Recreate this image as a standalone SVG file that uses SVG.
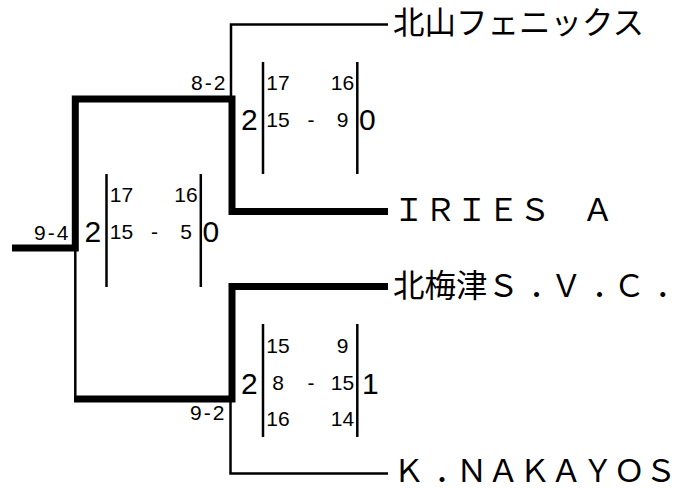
<svg xmlns="http://www.w3.org/2000/svg" width="693" height="488" viewBox="0 0 693 488">
<style>
.thin{fill:none;stroke:#000;stroke-width:2.5;stroke-linejoin:miter}
.thick{fill:none;stroke:#000;stroke-width:7;stroke-linejoin:miter}
.bar{stroke:#000;stroke-width:2.5}
.s{font-family:"Liberation Sans",Arial,sans-serif;font-size:21px;fill:#000}
.c{text-anchor:middle}
.big{font-family:"Liberation Sans",Arial,sans-serif;font-size:30px;fill:#000}
.lbl{font-family:"Liberation Sans",Arial,sans-serif;font-size:21px;letter-spacing:2px;fill:#000}
.name{font-family:"Noto Sans CJK JP","Noto Sans CJK SC",sans-serif;font-size:31.5px;fill:#000}
</style>
<rect width="693" height="488" fill="#fff"/>
<g id="connectors">
<path class="thin" d="M388,24.5 H231 V99"/>
<path class="thick" d="M388,211.5 H232 V99 H75.3 V248 H12"/>
<path class="thin" d="M75.3,248 V399"/>
<path class="thick" d="M388,286.5 H232 V399 H74"/>
<path class="thin" d="M230.5,399 V473.5 H388"/>
</g>
<g id="team1"><text class="name" x="393" y="34">北山フェニックス</text></g>
<g id="team2"><text class="name" x="393" y="221">ＩＲＩＥＳ　Ａ</text></g>
<g id="team3"><text class="name" x="393" y="297" dx="0 0 0 0 10 -10 10 -10 10">北梅津Ｓ．Ｖ．Ｃ．</text></g>
<g id="team4"><text class="name" x="393" y="482" dx="0 10 -10">Ｋ．ＮＡＫＡＹＯＳ</text></g>
<g id="match1">
<text class="lbl" x="191" y="90">8-2</text>
<text class="big" x="241" y="130">2</text>
<line class="bar" x1="263" y1="62" x2="263" y2="174"/>
<line class="bar" x1="357.3" y1="62" x2="357.3" y2="174"/>
<text class="s c" x="278" y="90">17</text>
<text class="s c" x="342.5" y="90">16</text>
<text class="s c" x="278" y="127">15</text>
<text class="s c" x="311" y="127">-</text>
<text class="s c" x="342.5" y="127">9</text>
<text class="big" x="359" y="130">0</text>
</g>
<g id="final">
<text class="lbl" x="34" y="240">9-4</text>
<text class="big" x="84.5" y="242">2</text>
<line class="bar" x1="106.5" y1="174" x2="106.5" y2="287"/>
<line class="bar" x1="200.8" y1="174" x2="200.8" y2="287"/>
<text class="s c" x="121.5" y="202">17</text>
<text class="s c" x="186" y="202">16</text>
<text class="s c" x="121.5" y="239">15</text>
<text class="s c" x="154.5" y="239">-</text>
<text class="s c" x="186" y="239">5</text>
<text class="big" x="202.5" y="242">0</text>
</g>
<g id="match2">
<text class="lbl" x="190" y="420">9-2</text>
<text class="big" x="241" y="394">2</text>
<line class="bar" x1="263" y1="324" x2="263" y2="437"/>
<line class="bar" x1="357.3" y1="324" x2="357.3" y2="437"/>
<text class="s c" x="278" y="353">15</text>
<text class="s c" x="342.5" y="353">9</text>
<text class="s c" x="278" y="390">8</text>
<text class="s c" x="311" y="390">-</text>
<text class="s c" x="342.5" y="390">15</text>
<text class="s c" x="278" y="426">16</text>
<text class="s c" x="342.5" y="426">14</text>
<text class="big" x="362" y="394">1</text>
</g>
</svg>
